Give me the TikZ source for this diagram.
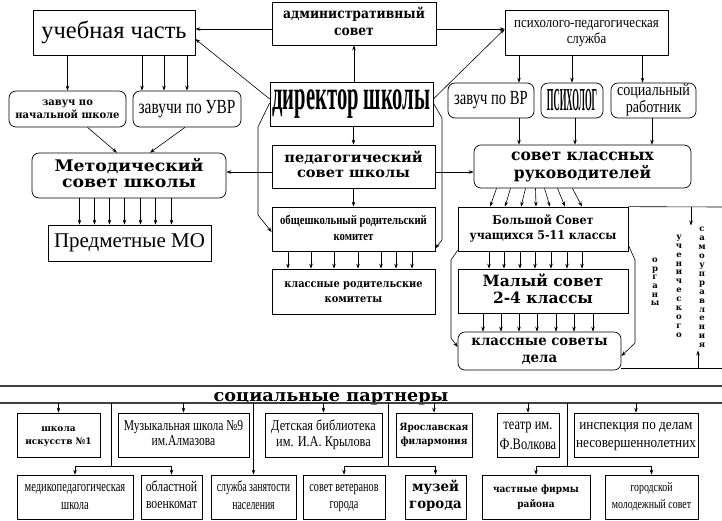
\documentclass[tikz,border=0pt]{standalone}
\usepackage{fontspec}
\usepackage{graphicx}
\setmainfont{Liberation Serif}
\newfontfamily\dvs{DejaVu Serif}
\usetikzlibrary{arrows.meta,calc}
\newcommand\hsq[2]{\scalebox{#1}[1]{#2}}
\newcommand\tb[1]{\begin{tabular}{@{}c@{}}#1\end{tabular}}
\newcommand\fsz[2]{\fontsize{#1}{#2}\selectfont}
\newcommand\wb{\dvs\bfseries}
\begin{document}
\begin{tikzpicture}[x=1pt,y=-1pt,
  bx/.style={draw, line width=0.7pt, inner sep=0pt, align=center},
  rbx/.style={bx, rounded corners=7pt},
  arr/.style={-{Stealth[length=5pt,width=3.5pt]}, line width=0.6pt},
  ln/.style={line width=0.6pt},
  rule/.style={line width=1.1pt, black!75},
  vt/.style={inner sep=0pt}]
\fill[white] (0,0) rectangle (722,520);
\useasboundingbox (0,0) rectangle (722,520);

% ---------- upper part ----------
\node[bx, minimum width=162pt, minimum height=45pt] (uch) at (114,32.5) {\fsz{24.5}{28}учебная часть};
\node[bx, minimum width=164pt, minimum height=43pt] (adm) at (354,23.5) {\wb\fsz{14}{17}\hsq{0.88}{\tb{административный\\совет}}};
\node[bx, minimum width=163pt, minimum height=45pt] (pps) at (586.5,32.5) {\fsz{15}{16}\hsq{0.86}{\tb{психолого-педагогическая\\служба}}};

\node[rbx, minimum width=117pt, minimum height=36pt] (zns) at (67.5,109) {\wb\fsz{10.5}{13}\hsq{0.95}{\tb{завуч по\\начальной школе}}};
\node[rbx, minimum width=108pt, minimum height=36pt] (zuvr) at (187,109) {\fsz{20}{22}\hsq{0.77}{завучи по УВР}};
\node[bx, minimum width=163pt, minimum height=44pt] (dir) at (351.5,104) {\fsz{42}{44}\bfseries\hsq{0.49}{директор школы}};
\node[rbx, minimum width=86pt, minimum height=35pt] (zvr) at (491,100.5) {\fsz{20}{22}\hsq{0.73}{завуч по ВР}};
\node[rbx, minimum width=62pt, minimum height=35pt] (psy) at (572,100.5) {\fsz{32}{34}\bfseries\hsq{0.27}{ПСИХОЛОГ}};
\node[rbx, minimum width=85pt, minimum height=35pt] (soc) at (653.5,100.5) {\fsz{17}{17}\hsq{0.83}{\tb{социальный\\работник}}};

\node[rbx, minimum width=194pt, minimum height=45pt] (met) at (129,175.5) {\wb\fsz{16}{16}\hsq{1.08}{\tb{Методический\\совет школы}}};
\node[bx, minimum width=163pt, minimum height=36pt] (mo) at (129.5,243) {\fsz{21}{22}Предметные МО};
\node[bx, minimum width=163pt, minimum height=43pt] (ped) at (353.5,166.5) {\wb\fsz{14}{15}\hsq{1.04}{\tb{педагогический\\совет школы}}};
\node[bx, minimum width=163pt, minimum height=44pt] (obr) at (353.5,229) {\fsz{13}{16}\bfseries\hsq{0.82}{\tb{общешкольный родительский\\комитет}}};
\node[bx, minimum width=163pt, minimum height=45pt] (klr) at (353.5,291.5) {\wb\fsz{11}{15}\hsq{0.89}{\tb{классные родительские\\комитеты}}};
\node[rbx, minimum width=217pt, minimum height=43pt] (skr) at (582.5,166.5) {\wb\fsz{16}{16}\hsq{0.97}{\tb{совет классных\\руководителей}}};
\node[bx, minimum width=170pt, minimum height=44pt] (bol) at (543,229) {\wb\fsz{12}{15}\hsq{0.92}{\tb{Большой Совет\\учащихся 5-11 классы}}};
\node[bx, minimum width=170pt, minimum height=44pt] (mal) at (543,291) {\wb\fsz{15.5}{17}\tb{Малый совет\\2-4 классы}};
\node[rbx, minimum width=163pt, minimum height=38pt] (kls) at (539.5,351) {\wb\fsz{14}{17}\hsq{0.95}{\tb{классные советы\\дела}}};

\node[vt] (org) at (655,282.5) {\wb\fsz{8.5}{8.6}\tb{о\\р\\г\\а\\н\\ы}};
\node[vt] (uchn) at (679,286.5) {\wb\fsz{8.5}{8.9}\tb{у\\ч\\е\\н\\и\\ч\\е\\с\\к\\о\\г\\о}};
\node[vt] (sam) at (702,288) {\wb\fsz{8.5}{8.9}\tb{с\\а\\м\\о\\у\\п\\р\\а\\в\\л\\е\\н\\и\\я}};

% coordinates for bent connectors
\coordinate (la) at (258,127);
\coordinate (lb) at (258,215);
\coordinate (ra) at (442,118);
\coordinate (rb) at (442,240);
\coordinate (bl1) at (451,260);
\coordinate (bl2) at (451,338);
\coordinate (br1) at (635,260);
\coordinate (br2) at (635,343);
\coordinate (sgT) at (722,207);
\coordinate (sgA) at (691,207);
\coordinate (sgB) at (722,368);
\coordinate (sgC) at (698,368);

% connectors
\draw[arr] (uch.south -| zns.north) -- (zns.north);
\foreach \d in {-45,-23,0}
  \draw[arr] ($(uch.south -| zuvr.north)+(\d,0)$) -- ($(zuvr.north)+(\d,0)$);
\draw[arr] ($(adm.west |- uch.east)+(0,-3.5)$) -- ($(uch.east)+(0,-3.5)$);
\draw[arr] ($(adm.east |- pps.west)+(0,-3.5)$) -- ($(pps.west)+(0,-3.5)$);
\draw[arr] (dir.north -| adm.south) -- (adm.south);
\draw[arr] ($(dir.west)+(0,-5)$) -- ($(uch.east)+(0,6.5)$);
\draw[arr] ($(dir.east)+(0,-5)$) -- ($(pps.west)+(0,-3.5)$);
\draw[arr] (dir.south -| ped.north) -- (ped.north);
\draw[arr] (ped.south) -- (obr.north);
\draw[arr] ($(ped.west)+(0,5.5)$) -- ($(met.east)+(0,-3.5)$);
\draw[arr] ($(ped.east)+(0,5.5)$) -- ($(skr.west)+(0,5.5)$);
\draw[arr] ($(dir.west)+(0,-1)$) -- (la) -- (lb) -- ($(obr.west)+(0,3)$);
\draw[arr] ($(dir.east)+(0,-1)$) -- (ra) -- (rb) -- ($(obr.south east)+(0,-3)$);
\draw[arr] ($(zns.south)+(20,0)$) -- ($(met.north)+(-12,0)$);
\draw[arr] ($(zuvr.south)+(-2,0)$) -- ($(met.north)+(21,0)$);
\foreach \d in {-50,-35,-20,-5,11,26,42}
  \draw[arr] ($(met.south -| mo.north)+(\d,0)$) -- ($(mo.north)+(\d,0)$);
\foreach \d in {-65.5,-42.5,-19.5,4.5,27.5,42.5,58.5}
  \draw[arr] ($(obr.south -| klr.north)+(\d,0)$) -- ($(klr.north)+(\d,0)$);
\draw[arr] ($(pps.south -| zvr.north)+(28,0)$) -- ($(zvr.north)+(28,0)$);
\draw[arr] (pps.south -| psy.north) -- (psy.north);
\draw[arr] ($(pps.south -| soc.north)+(-11,0)$) -- ($(soc.north)+(-11,0)$);
\draw[arr] ($(zvr.south)+(28,0)$) -- ($(zvr.south |- skr.north)+(28,0)$);
\draw[arr] ($(psy.south)+(3,0)$) -- ($(psy.south |- skr.north)+(3,0)$);
\draw[arr] ($(soc.south)+(-1.5,0)$) -- ($(soc.south |- skr.north)+(-1.5,0)$);
\foreach \a/\b in {-86/-53,-72/-38,-57/-22,-47/-7,-38/7,-25/22,-10/39}
  \draw[arr] ($(skr.south)+(\a,0)$) -- ($(bol.north)+(\b,0)$);
\foreach \d in {-54,-39,-23,-8,8,24,39}
  \draw[arr] ($(bol.south)+(\d,0)$) -- ($(bol.south |- mal.north)+(\d,0)$);
\foreach \d in {-56.5,-38.5,-20.5,-2.5,16.5,34.5,53.5}
  \draw[arr] ($(mal.south -| kls.north)+(\d,0)$) -- ($(kls.north)+(\d,0)$);
\draw[arr] ($(bol.south west)+(0,-1)$) -- (bl1) -- (bl2) -- ($(kls.west)+(0,-4)$);
\draw[arr] ($(bol.east)+(0,16)$) -- (br1) -- (br2) -- ($(kls.east)+(0,5)$);
\draw[ln] (bol.north east) -- (sgT);
\draw[arr] (sgA) -- (sgA |- sam.north);
\draw[ln] ($(kls.east)+(0,17)$) -- (sgB);
\draw[arr] (sgC) -- (sgC |- sam.south);

% ---------- social partners ----------
\coordinate (rl) at (0,403);
\coordinate (rr) at (722,403);
\coordinate (tl) at (0,386);
\coordinate (tr) at (722,386);
\draw[rule] (tl) -- (tr);
\node[anchor=base, inner sep=0pt] (title) at (331,401) {\wb\fsz{17}{17}\hsq{1.04}{социальные партнеры}};
\draw[rule] (rl) -- (rr);

\node[bx, minimum width=83pt, minimum height=44pt] (ski) at (58.5,435) {\wb\fsz{9}{13}\tb{школа\\искусств №1}};
\node[bx, minimum width=131pt, minimum height=44pt] (muz) at (183.5,435) {\fsz{15}{15}\hsq{0.77}{\tb{Музыкальная школа №9\\им.Алмазова}}};
\node[bx, minimum width=117pt, minimum height=44pt] (bib) at (323.5,435) {\fsz{15}{16}\hsq{0.82}{\tb{Детская библиотека\\им. И.А. Крылова}}};
\node[bx, minimum width=76pt, minimum height=44pt] (yar) at (434,435) {\wb\fsz{10}{14}\hsq{0.9}{\tb{Ярославская\\филармония}}};
\node[bx, minimum width=62pt, minimum height=44pt] (tea) at (528,435) {\fsz{16}{20}\hsq{0.78}{\tb{театр им.\\Ф.Волкова}}};
\node[bx, minimum width=124pt, minimum height=44pt] (ins) at (636,435) {\fsz{15}{18}\hsq{0.88}{\tb{инспекция по делам\\несовершеннолетних}}};

\node[bx, minimum width=116pt, minimum height=44pt] (med) at (75,497) {\fsz{15}{18}\hsq{0.7}{\tb{медикопедагогическая\\школа}}};
\node[bx, minimum width=61pt, minimum height=44pt] (voe) at (171.5,497) {\fsz{15}{17}\hsq{0.78}{\tb{областной\\военкомат}}};
\node[bx, minimum width=85pt, minimum height=44pt] (slz) at (253.5,497) {\fsz{15}{18}\hsq{0.65}{\tb{служба занятости\\населения}}};
\node[bx, minimum width=82pt, minimum height=44pt] (vet) at (344,497) {\fsz{15}{17}\hsq{0.68}{\tb{совет ветеранов\\города}}};
\node[bx, minimum width=61pt, minimum height=44pt] (mzg) at (435.5,497) {\wb\fsz{14}{17}\hsq{0.95}{\tb{музей\\города}}};
\node[bx, minimum width=108pt, minimum height=44pt] (chf) at (536,497) {\wb\fsz{10}{15}\hsq{0.9}{\tb{частные фирмы\\района}}};
\node[bx, minimum width=93pt, minimum height=44pt] (gms) at (651.5,497) {\fsz{13}{17}\hsq{0.76}{\tb{городской\\молодежный совет}}};

\coordinate (t1) at (111,466);
\coordinate (t2) at (388,466);
\coordinate (t3) at (567,466);
\foreach \n in {ski,muz,bib,yar,tea,ins}
  \draw[arr] (\n.north |- rl) -- (\n.north);
\draw[ln] (t1 |- rl) -- (t1);
\draw[arr] (t1) -| (med.north);
\draw[arr] (t1) -| (voe.north);
\draw[arr] (slz.north |- rl) -- (slz.north);
\draw[ln] (t2 |- rl) -- (t2);
\draw[arr] (t2) -| (vet.north);
\draw[arr] (t2) -| (mzg.north);
\draw[ln] (t3 |- rl) -- (t3);
\draw[arr] (t3) -| (chf.north);
\draw[arr] (t3) -| (gms.north);
\end{tikzpicture}
\end{document}
